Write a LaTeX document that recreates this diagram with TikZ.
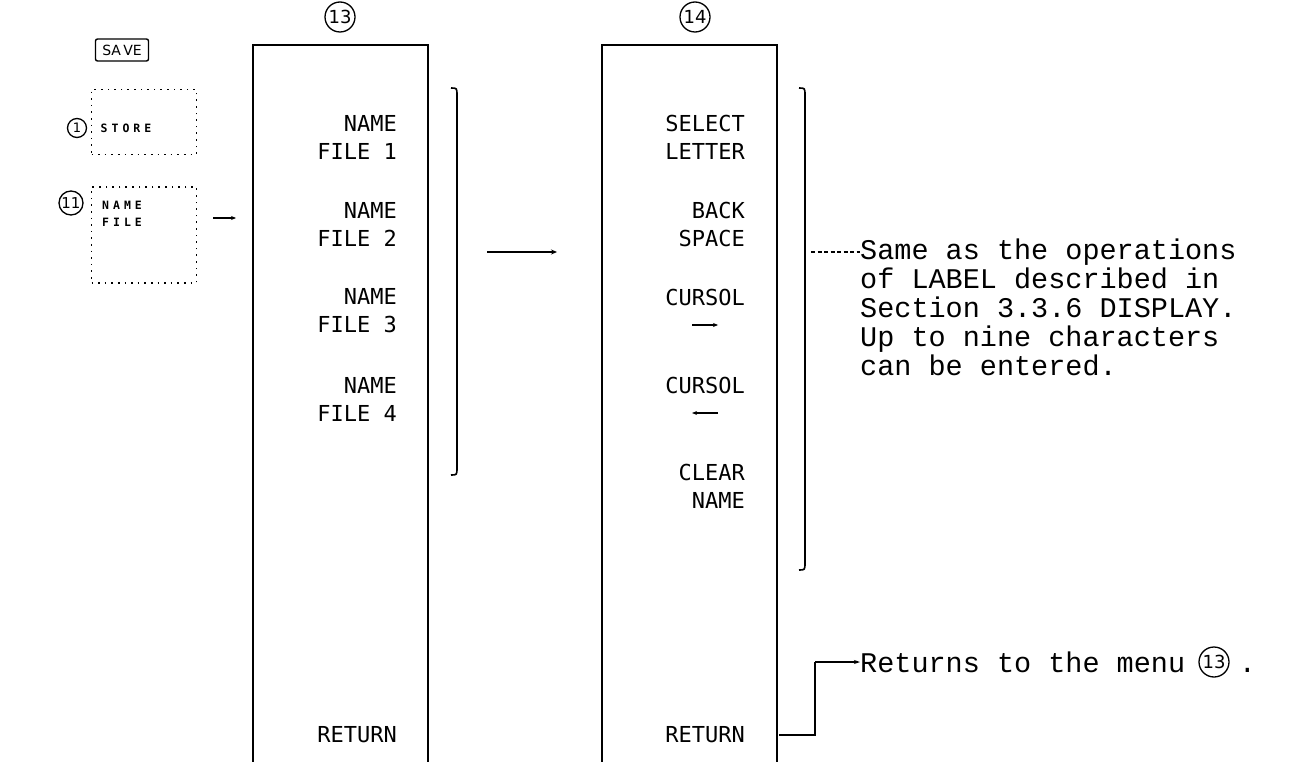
\documentclass[tikz,border=0pt]{standalone}
\usepackage{fontspec}
\usetikzlibrary{arrows.meta,calc}
\newfontfamily\menufont{DejaVu Sans Mono}
\newfontfamily\descfont{Liberation Mono}
\newfontfamily\numfont{DejaVu Sans}
\begin{document}
\begin{tikzpicture}[x=1pt,y=-1pt,
  frame/.style={line width=1.6pt},
  item/.style={anchor=east, align=right, inner sep=0pt,
    font=\menufont\fontsize{22}{28}\selectfont},
  dotbox/.style={draw, line width=1.6pt, dash pattern=on 1.6pt off 5pt, inner sep=0pt},
  boxtxt/.style={inner sep=0pt, align=left, font=\menufont\bfseries\fontsize{11.5}{17}\selectfont},
  key/.style={draw, rounded corners=2pt, line width=1.4pt, inner sep=2pt,
    minimum width=53pt, minimum height=22pt, font=\numfont\fontsize{14}{14}\selectfont},
  circ/.style={circle, draw, line width=1.3pt, inner sep=0pt, minimum size=30pt, font=\numfont\fontsize{18}{18}\selectfont},
  desc/.style={inner sep=0pt, align=left, font=\descfont\fontsize{28.5}{29}\selectfont},
  arr/.style={line width=1.6pt, -{Stealth[length=6pt,width=5pt]}},
  brk/.style={line width=1.6pt}
]
\useasboundingbox (0,0) rectangle (1290,762);

% left key and soft-key boxes
\node[key] (save) at (122,50) {SA\,VE};
\node[dotbox, minimum width=105pt, minimum height=65pt] (store) at (144,122) {};
\node[boxtxt] (storet) at (126,128) {S\hspace{4pt}T\hspace{4pt}O\hspace{4pt}R\hspace{4pt}E};
\node[circ, minimum size=19pt, font=\numfont\fontsize{13}{13}\selectfont] (c1) at (77,128) {1};
\node[dotbox, minimum width=105pt, minimum height=96pt] (namefile) at (144,235) {};
\node[boxtxt, anchor=west] (namefilet) at (102,214) {N\hspace{4pt}A\hspace{4pt}M\hspace{4pt}E\\F\hspace{4pt}I\hspace{4pt}L\hspace{4pt}E};
\node[circ, minimum size=24pt, font=\numfont\fontsize{15}{15}\selectfont] (c11) at (71,203) {11};
\coordinate (a0s) at (213,218);
\coordinate (a0e) at (236,218);
\draw[arr, -{Stealth[length=5pt,width=4pt]}] (a0s) -- (a0e);

% menu 13
\node[circ] (c13) at (340,17) {13};
\coordinate (m13tl) at (253,45);
\coordinate (m13tr) at (428,45);
\draw[frame] (253,762) -- (m13tl) -- (m13tr) -- (428,762);
\node[item] (f1) at (397,137) {NAME\\FILE 1};
\node[item] (f2) at (397,224) {NAME\\FILE 2};
\node[item] (f3) at (397,311) {NAME\\FILE 3};
\node[item] (f4) at (397,399) {NAME\\FILE 4};
\node[item] (r13) at (397,735) {RETURN};
\draw[brk] (451,88) .. controls (457,88) .. (457,96) -- (457,467) .. controls (457,475) .. (451,475);

% arrow between menus
\coordinate (a1s) at (487,252);
\coordinate (a1e) at (557,252);
\draw[arr] (a1s) -- (a1e);

% menu 14
\node[circ] (c14) at (695,17) {14};
\coordinate (m14tl) at (602,45);
\coordinate (m14tr) at (777,45);
\draw[frame] (602,762) -- (m14tl) -- (m14tr) -- (777,762);
\node[item] (s1) at (745,137) {SELECT\\LETTER};
\node[item] (s2) at (745,224) {BACK\\SPACE};
\node[item] (s3) at (745,311) {CURSOL\\\phantom{X}};
\node[item] (s4) at (745,399) {CURSOL\\\phantom{X}};
\node[item] (s5) at (745,486) {CLEAR\\NAME};
\node[item] (r14) at (745,735) {RETURN};
\draw[arr, -{Stealth[length=5pt,width=4pt]}] ($(s3.center)+(-13,14)$) -- ($(s3.center)+(13,14)$);
\draw[arr, -{Stealth[length=5pt,width=4pt]}] ($(s4.center)+(13,14)$) -- ($(s4.center)+(-13,14)$);
\draw[brk] (799,88) .. controls (805,88) .. (805,96) -- (805,562) .. controls (805,570) .. (799,570);

% description
\node[desc, anchor=north west] (d1) at (860,239) {Same as the operations\\of LABEL described in\\Section 3.3.6 DISPLAY.\\Up to nine characters\\can be entered.};
\coordinate (dsh) at (811,252);
\draw[line width=1.3pt, dash pattern=on 4pt off 2.5pt] (dsh) -- (d1.west |- dsh);

% return description
\node[desc, anchor=west] (rt) at (860,662) {Returns to the menu};
\node[circ, anchor=west] (c13b) at ([xshift=13pt]rt.east) {13};
\node[desc, anchor=base west] (dot) at ([xshift=9pt]c13b.east |- rt.base) {.};
\coordinate (rs) at (779,735);
\coordinate (rk) at (815,735);
\draw[line width=1.6pt] (rs) -- (rk) -- (rk |- rt.west);
\draw[arr, -{Stealth[length=6pt,width=4pt]}] (rk |- rt.west) -- (rt.west);
\end{tikzpicture}
\end{document}
